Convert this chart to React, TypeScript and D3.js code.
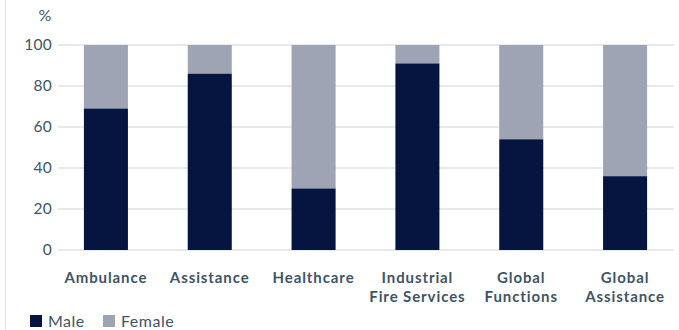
import React from "react";
import * as d3 from "d3";

const categories: string[][] = [
  ["Ambulance"],
  ["Assistance"],
  ["Healthcare"],
  ["Industrial", "Fire Services"],
  ["Global", "Functions"],
  ["Global", "Assistance"],
];
const maleValues = [69, 86, 30, 91, 54, 36];
const femaleValues = maleValues.map((m) => 100 - m);
const yTicks = [0, 20, 40, 60, 80, 100];
const seriesNames = ["Male", "Female"];
const colors = ["#061440", "#9ea4b4"];

const W = 679;
const H = 330;
const textColor = "#3e5566";
const font = "Lato, 'Open Sans', sans-serif";

export default function App() {
  const keys = categories.map((c) => c.join(" "));
  const x = d3.scaleBand<string>().domain(keys).range([54, 677]).paddingInner(0.576).paddingOuter(0.288);
  const y = d3.scaleLinear().domain([0, 100]).range([250, 45]);

  return (
    <svg width={W} height={H} style={{ position: "absolute", left: 0, top: 0, background: "#fff" }}>
      <line x1={5.5} x2={5.5} y1={0} y2={H} stroke="#e3e3e3" strokeWidth={1} />
      <text x={45} y={21} textAnchor="middle" fontFamily={font} fontSize={16} fill={textColor}>%</text>
      {yTicks.map((t) => (
        <g key={t}>
          <line x1={58} x2={674} y1={y(t)} y2={y(t)} stroke="#e2e2e2" strokeWidth={1.5} />
          <text x={52} y={y(t)} dy="0.35em" textAnchor="end" fontFamily={font} fontSize={15.5} letterSpacing={0.3} fill={textColor}>{t}</text>
        </g>
      ))}
      {keys.map((k, i) => (
        <g key={k}>
          <rect x={x(k)} width={x.bandwidth()} y={y(100)} height={y(100 - femaleValues[i]) - y(100)} fill={colors[1]} />
          <rect x={x(k)} width={x.bandwidth()} y={y(maleValues[i])} height={y(0) - y(maleValues[i])} fill={colors[0]} />
          {categories[i].map((line, j) => (
            <text
              key={j}
              x={(x(k) as number) + x.bandwidth() / 2}
              y={283 + j * 19}
              textAnchor="middle"
              fontFamily={font}
              fontWeight={700}
              fontSize={15}
              letterSpacing={0.9}
              fill={textColor}
            >
              {line}
            </text>
          ))}
        </g>
      ))}
      {seriesNames.map((s, i) => (
        <g key={s} transform={`translate(${30 + i * 73},0)`}>
          <rect x={0} y={315} width={12} height={12} fill={colors[i]} />
          <text x={18} y={327} fontFamily={font} fontSize={16} letterSpacing={0.5} fill={textColor}>{s}</text>
        </g>
      ))}
    </svg>
  );
}
